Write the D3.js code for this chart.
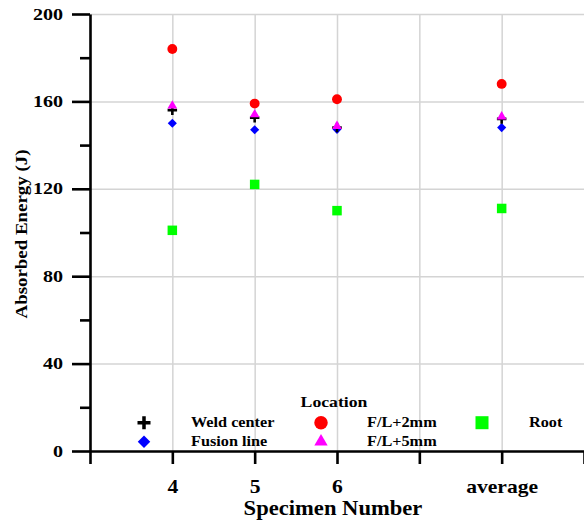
<!DOCTYPE html>
<html>
<head>
<meta charset="utf-8">
<script src="https://cdn.jsdelivr.net/npm/d3@7"></script>
<style>
  body { margin: 0; background: #fff; }
  text { font-family: "Liberation Serif", "Times New Roman", serif; font-weight: bold; fill: #000; }
</style>
</head>
<body>
<svg id="chart" width="584" height="522"></svg>
<script>
// Data
const tickLabels = ['', '4', '5', '6', '', 'average', ''];
const specimenPos = [1, 2, 3, 5];          // 4, 5, 6, average
const weldCenter = [156, 152.5, 148, 152];
const fusionLine = [150, 147, 147.2, 148];
const fl2mm = [184, 159, 161, 168];
const fl5mm = [158, 154, 148.7, 153];
const root = [101, 122, 110, 111];
const yMajor = [0, 40, 80, 120, 160, 200];
const yMinor = [20, 60, 100, 140, 180];

const margin = { top: 14, right: 0, bottom: 71, left: 90 };
const W = 584, H = 522;

const x = d3.scaleLinear().domain([0, 6]).range([margin.left, W - margin.right]);
const y = d3.scaleLinear().domain([0, 200]).range([H - margin.bottom, margin.top]);

const svg = d3.select('svg#chart');

// text is drawn wider than normal Times in the original
function stretch(sel, k) {
    sel.each(function() {
        const t = d3.select(this);
        const tx = +t.attr('x') || 0;
        t.attr('x', tx / k).attr('transform', `scale(${k},1)`);
    });
}

// Grid
svg.append('g')
    .attr('transform', `translate(${margin.left},0)`)
    .call(d3.axisLeft(y).tickValues(yMajor.slice(1)).tickSize(-(W - margin.left)).tickFormat(''))
    .call(g => g.select('.domain').remove())
    .selectAll('line').attr('stroke', '#d4d4d4').attr('stroke-width', 1.5);

svg.append('g')
    .attr('transform', `translate(0,${y(0)})`)
    .call(d3.axisBottom(x).tickValues([1, 2, 3, 4, 5]).tickSize(-(y(0) - y(200))).tickFormat(''))
    .call(g => g.select('.domain').remove())
    .selectAll('line').attr('stroke', '#d4d4d4').attr('stroke-width', 1.5);

// Points
const pts = (vals) => vals.map((v, i) => [x(specimenPos[i]), y(v)]);
const plusPath = (r) => `M${-r},0H${r}M0,${-r}V${r}`;

const series = [
    { name: 'F/L+2mm', vals: fl2mm, color: '#ff0000', type: 'circle' },
    { name: 'Root', vals: root, color: '#00ff00', type: 'square' },
    { name: 'Fusion line', vals: fusionLine, color: '#0000ff', type: 'diamond' },
    { name: 'Weld center', vals: weldCenter, color: '#000000', type: 'plus' },
    { name: 'F/L+5mm', vals: fl5mm, color: '#ff00ff', type: 'triangle' }
];

function drawMarker(g, type, color, s) {
    if (type === 'circle') {
        g.append('circle').attr('r', s * 0.52).attr('fill', color);
    } else if (type === 'square') {
        g.append('rect').attr('x', -s / 2).attr('y', -s / 2).attr('width', s).attr('height', s).attr('fill', color);
    } else if (type === 'diamond') {
        g.append('path').attr('d', d3.symbol(d3.symbolSquare, (s * 0.68) ** 2)()).attr('transform', 'rotate(45)').attr('fill', color);
    } else if (type === 'triangle') {
        g.append('path').attr('d', d3.symbol(d3.symbolTriangle, 0.433 * s * s * 1.05)()).attr('fill', color);
    } else if (type === 'plus') {
        g.append('path').attr('d', plusPath(s * 0.5)).attr('stroke', color).attr('stroke-width', s * 0.27).attr('fill', 'none');
    }
}

series.forEach(sr => {
    svg.append('g').selectAll('g')
        .data(pts(sr.vals))
        .enter()
        .append('g')
        .attr('transform', d => `translate(${d[0]},${d[1]})`)
        .each(function() { drawMarker(d3.select(this), sr.type, sr.color, 9.5); });
});

// Axes
const yAxisG = svg.append('g')
    .attr('transform', `translate(${margin.left},0)`)
    .call(d3.axisLeft(y).tickValues(yMajor).tickSize(18).tickSizeOuter(0).tickPadding(9).tickFormat(d3.format('d')));
yAxisG.selectAll('text').style('font-size', '17px').attr('dy', '0.3em');
stretch(yAxisG.selectAll('text'), 1.18);

svg.append('g')
    .attr('transform', `translate(${margin.left},0)`)
    .call(d3.axisLeft(y).tickValues(yMinor).tickSize(10).tickSizeOuter(0).tickFormat(''))
    .call(g => g.select('.domain').remove());

const xAxisG = svg.append('g')
    .attr('transform', `translate(0,${y(0)})`)
    .call(d3.axisBottom(x).tickValues(d3.range(7)).tickSize(13).tickSizeOuter(0).tickFormat((d, i) => tickLabels[i]));
xAxisG.selectAll('text').style('font-size', '18px').attr('y', 42).attr('dy', 0);
stretch(xAxisG.selectAll('text'), 1.2);

svg.selectAll('.domain, .tick line').filter(function() { return d3.select(this).attr('stroke') === 'currentColor'; })
    .attr('stroke', '#000').attr('stroke-width', 2.6);

// Axis titles
svg.append('text')
    .attr('transform', `translate(${(x(0) + x(6)) / 2 - 4},515) scale(1.13,1)`)
    .attr('text-anchor', 'middle')
    .style('font-size', '20px')
    .text('Specimen Number');

svg.append('text')
    .attr('transform', 'translate(27,234) rotate(-90) scale(1.08,1)')
    .attr('text-anchor', 'middle')
    .style('font-size', '17.5px')
    .text('Absorbed Energy (J)');

// Legend
svg.append('text')
    .attr('transform', 'translate(334,407) scale(1.18,1)')
    .attr('text-anchor', 'middle')
    .style('font-size', '15px')
    .text('Location');

const legendItems = [
    { name: 'Weld center', type: 'plus', color: '#000000', sx: 144, tx: 191, ry: 422.7 },
    { name: 'F/L+2mm', type: 'circle', color: '#ff0000', sx: 321, tx: 367, ry: 422.7 },
    { name: 'Root', type: 'square', color: '#00ff00', sx: 482, tx: 529, ry: 422.7 },
    { name: 'Fusion line', type: 'diamond', color: '#0000ff', sx: 144, tx: 191, ry: 441.7 },
    { name: 'F/L+5mm', type: 'triangle', color: '#ff00ff', sx: 321, tx: 367, ry: 441.7 }
];

const legend = svg.append('g');
legendItems.forEach(it => {
    const g = legend.append('g').attr('transform', `translate(${it.sx},${it.ry})`);
    drawMarker(g, it.type, it.color, 13);
    legend.append('text')
        .attr('transform', `translate(${it.tx},${it.ry + 4.7}) scale(1.16,1)`)
        .style('font-size', '14px')
        .text(it.name);
});
</script>
</body>
</html>
